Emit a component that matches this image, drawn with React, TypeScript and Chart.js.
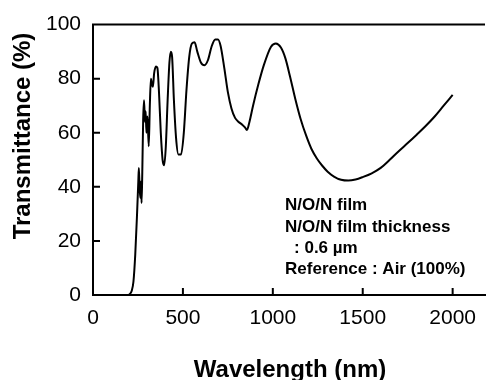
import { useEffect, useRef } from "react";
import { Chart, registerables } from "chart.js";

Chart.register(...registerables);

const wavelengths = [
  200, 215, 225, 235, 245, 252, 255, 259, 263, 267, 270, 274, 279, 284, 289, 293, 297, 303, 310, 316,
  322, 327, 333, 340, 350, 358, 367, 377, 387, 396, 405, 415, 425, 433, 440, 450, 462, 475, 490, 505,
  520, 535, 550, 565, 580, 600, 620, 640, 660, 680, 695, 710, 730, 750, 770, 790, 810, 830, 845, 856,
  870, 890, 920, 950, 990, 1017, 1045, 1070, 1095, 1125, 1155, 1185, 1215, 1245, 1275, 1305,
  1340, 1380, 1420, 1460, 1500, 1550, 1600, 1650, 1700, 1750, 1800, 1850, 1900, 1950, 2000,
];
const transmittance = [
  0, 1.5, 5, 15, 30, 42, 47, 40, 36, 42, 34, 45, 65, 72, 64, 68, 60, 66, 55, 70,
  80, 78, 77, 82, 84.5, 84, 75, 60, 50, 48, 55, 72, 86, 90, 88, 72, 58, 52, 52, 60,
  76, 88, 93, 93.5, 90, 86, 85, 87, 92, 94.5, 94.5, 92, 84, 75, 69, 65.5, 64, 63, 62, 61,
  64, 70, 78, 85, 91.8, 93, 91.5, 87.5, 81, 72.5, 65, 59, 54, 50.5, 47.8, 45.6,
  43.8, 42.6, 42.3, 42.7, 43.6, 45, 47, 50, 53.2, 56.2, 59.3, 62.5, 66, 70, 74,
];
const xTicks = [0, 500, 1000, 1500, 2000];
const yTicks = [0, 20, 40, 60, 80, 100];
const xTitle = "Wavelength (nm)";
const yTitle = "Transmittance (%)";
const noteLines = ["N/O/N film", "N/O/N film thickness", ": 0.6 \u00b5m", "Reference : Air (100%)"];
const noteIndent = [0, 0, 9, 0];
const noteAnchor = { x: 1068, y: 31.3 };

export default function App() {
  const ref = useRef<HTMLCanvasElement | null>(null);

  useEffect(() => {
    if (!ref.current) return;
    const decor = {
      id: "decor",
      afterDraw(chart: any) {
        const { ctx, chartArea, scales } = chart;
        const xs = scales.x;
        const ys = scales.y;
        ctx.save();
        ctx.strokeStyle = "#000";
        ctx.lineWidth = 2;
        ctx.beginPath();
        ctx.moveTo(chartArea.left - 1, chartArea.top);
        ctx.lineTo(chartArea.right, chartArea.top);
        xTicks.forEach((v) => {
          const px = xs.getPixelForValue(v);
          ctx.moveTo(px, chartArea.bottom);
          ctx.lineTo(px, chartArea.bottom - 7);
        });
        yTicks.forEach((v) => {
          const py = ys.getPixelForValue(v);
          ctx.moveTo(chartArea.left, py);
          ctx.lineTo(chartArea.left + 7, py);
        });
        ctx.stroke();

        ctx.fillStyle = "#000";
        ctx.font = 'bold 17px "Liberation Sans", Arial, sans-serif';
        ctx.textAlign = "left";
        ctx.textBaseline = "alphabetic";
        const ax = xs.getPixelForValue(noteAnchor.x);
        const ay = ys.getPixelForValue(noteAnchor.y);
        noteLines.forEach((t, i) => {
          ctx.fillText(t, ax + noteIndent[i], ay + i * 21.3);
        });

        ctx.font = 'bold 24px "Liberation Sans", Arial, sans-serif';
        ctx.textAlign = "center";
        ctx.fillText(xTitle, (chartArea.left + chartArea.right) / 2 + 1, 377);
        ctx.translate(30, 136);
        ctx.rotate(-Math.PI / 2);
        ctx.fillText(yTitle, 0, 0);
        ctx.restore();
      },
    };

    const tickFont = { family: '"Liberation Sans", Arial, sans-serif', size: 21 };

    const chart = new Chart(ref.current, {
      type: "line",
      data: {
        datasets: [
          {
            data: wavelengths.map((w, i) => ({ x: w, y: transmittance[i] })),
            borderColor: "#000",
            borderWidth: 2,
            pointRadius: 0,
            cubicInterpolationMode: "monotone",
            fill: false,
          },
        ],
      },
      options: {
        animation: false,
        responsive: false,
        devicePixelRatio: 1,
        layout: { padding: { top: 17, right: 0, left: 0, bottom: 0 } },
        plugins: { legend: { display: false }, tooltip: { enabled: false } },
        scales: {
          x: {
            type: "linear",
            min: 0,
            max: 2180,
            afterBuildTicks: (s: any) => {
              s.ticks = xTicks.map((v) => ({ value: v }));
            },
            afterFit: (s: any) => {
              s.height = 85;
            },
            grid: { display: false, drawTicks: false },
            border: { display: true, color: "#000", width: 2 },
            ticks: {
              color: "#000",
              padding: 11,
              maxRotation: 0,
              font: tickFont,
              callback: (v: any) => String(v),
            },
          },
          y: {
            type: "linear",
            min: 0,
            max: 100,
            afterBuildTicks: (s: any) => {
              s.ticks = yTicks.map((v) => ({ value: v }));
            },
            afterFit: (s: any) => {
              s.width = 93;
            },
            grid: { display: false, drawTicks: false },
            border: { display: true, color: "#000", width: 2 },
            ticks: {
              color: "#000",
              padding: 12,
              font: tickFont,
              callback: (v: any) => String(v),
            },
          },
        },
      },
      plugins: [decor],
    });
    return () => chart.destroy();
  }, []);

  return (
    <div style={{ position: "fixed", left: 0, top: 0, width: 487, height: 380, background: "#fff" }}>
      <canvas ref={ref} width={487} height={380} />
    </div>
  );
}
